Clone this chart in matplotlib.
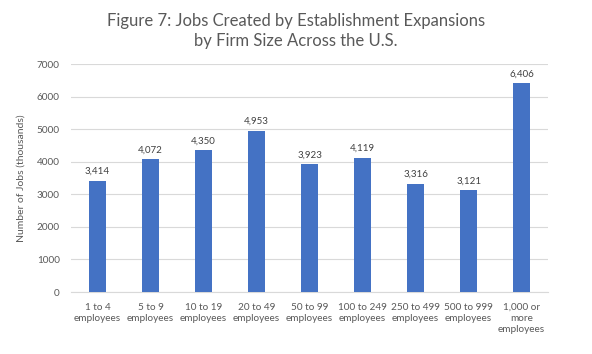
import matplotlib
matplotlib.use("Agg")
import matplotlib.pyplot as plt

categories = ["1 to 4\nemployees", "5 to 9\nemployees", "10 to 19\nemployees", "20 to 49\nemployees",
              "50 to 99\nemployees", "100 to 249\nemployees", "250 to 499\nemployees",
              "500 to 999\nemployees", "1,000 or\nmore\nemployees"]
values = [3414, 4072, 4350, 4953, 3923, 4119, 3316, 3121, 6406]
yticks = [0, 1000, 2000, 3000, 4000, 5000, 6000, 7000]

plt.rcParams['font.family'] = ['Lato', 'DejaVu Sans']
fig = plt.figure(figsize=(5.92, 3.54), dpi=100)
ax = fig.add_axes([0.12, 0.175, 0.806, 0.644])
x = range(len(values))
bars = ax.bar(x, values, width=0.33, color="#4472C4", zorder=3)
for xi, v in zip(x, values):
    ax.text(xi, v + 150, f"{v:,}", ha="center", va="bottom", fontsize=7, color="#404040")
ax.set_xlim(-0.5, len(values) - 0.5)
ax.set_ylim(0, 7000)
ax.set_yticks(yticks)
ax.set_yticklabels([str(t) for t in yticks])
ax.set_xticks(list(x))
ax.set_xticklabels(categories, fontsize=7.2, color="#595959", linespacing=1.3)
ax.tick_params(axis='y', labelsize=7.2, colors="#595959", length=0, pad=8)
ax.tick_params(axis='x', length=0, pad=8)
ax.grid(axis='y', color="#D9D9D9", linewidth=0.8, zorder=0)
for s in ["top", "right", "left"]:
    ax.spines[s].set_visible(False)
ax.spines["bottom"].set_color("#D9D9D9")
ax.set_ylabel("Number of Jobs (thousands)", fontsize=7.5, color="#595959", labelpad=8)
fig.text(0.5, 0.962, "Figure 7: Jobs Created by Establishment Expansions\nby Firm Size Across the U.S.",
         ha="center", va="top", fontsize=12, color="#595959", linespacing=1.3)
fig.savefig("out.png", dpi=100)
